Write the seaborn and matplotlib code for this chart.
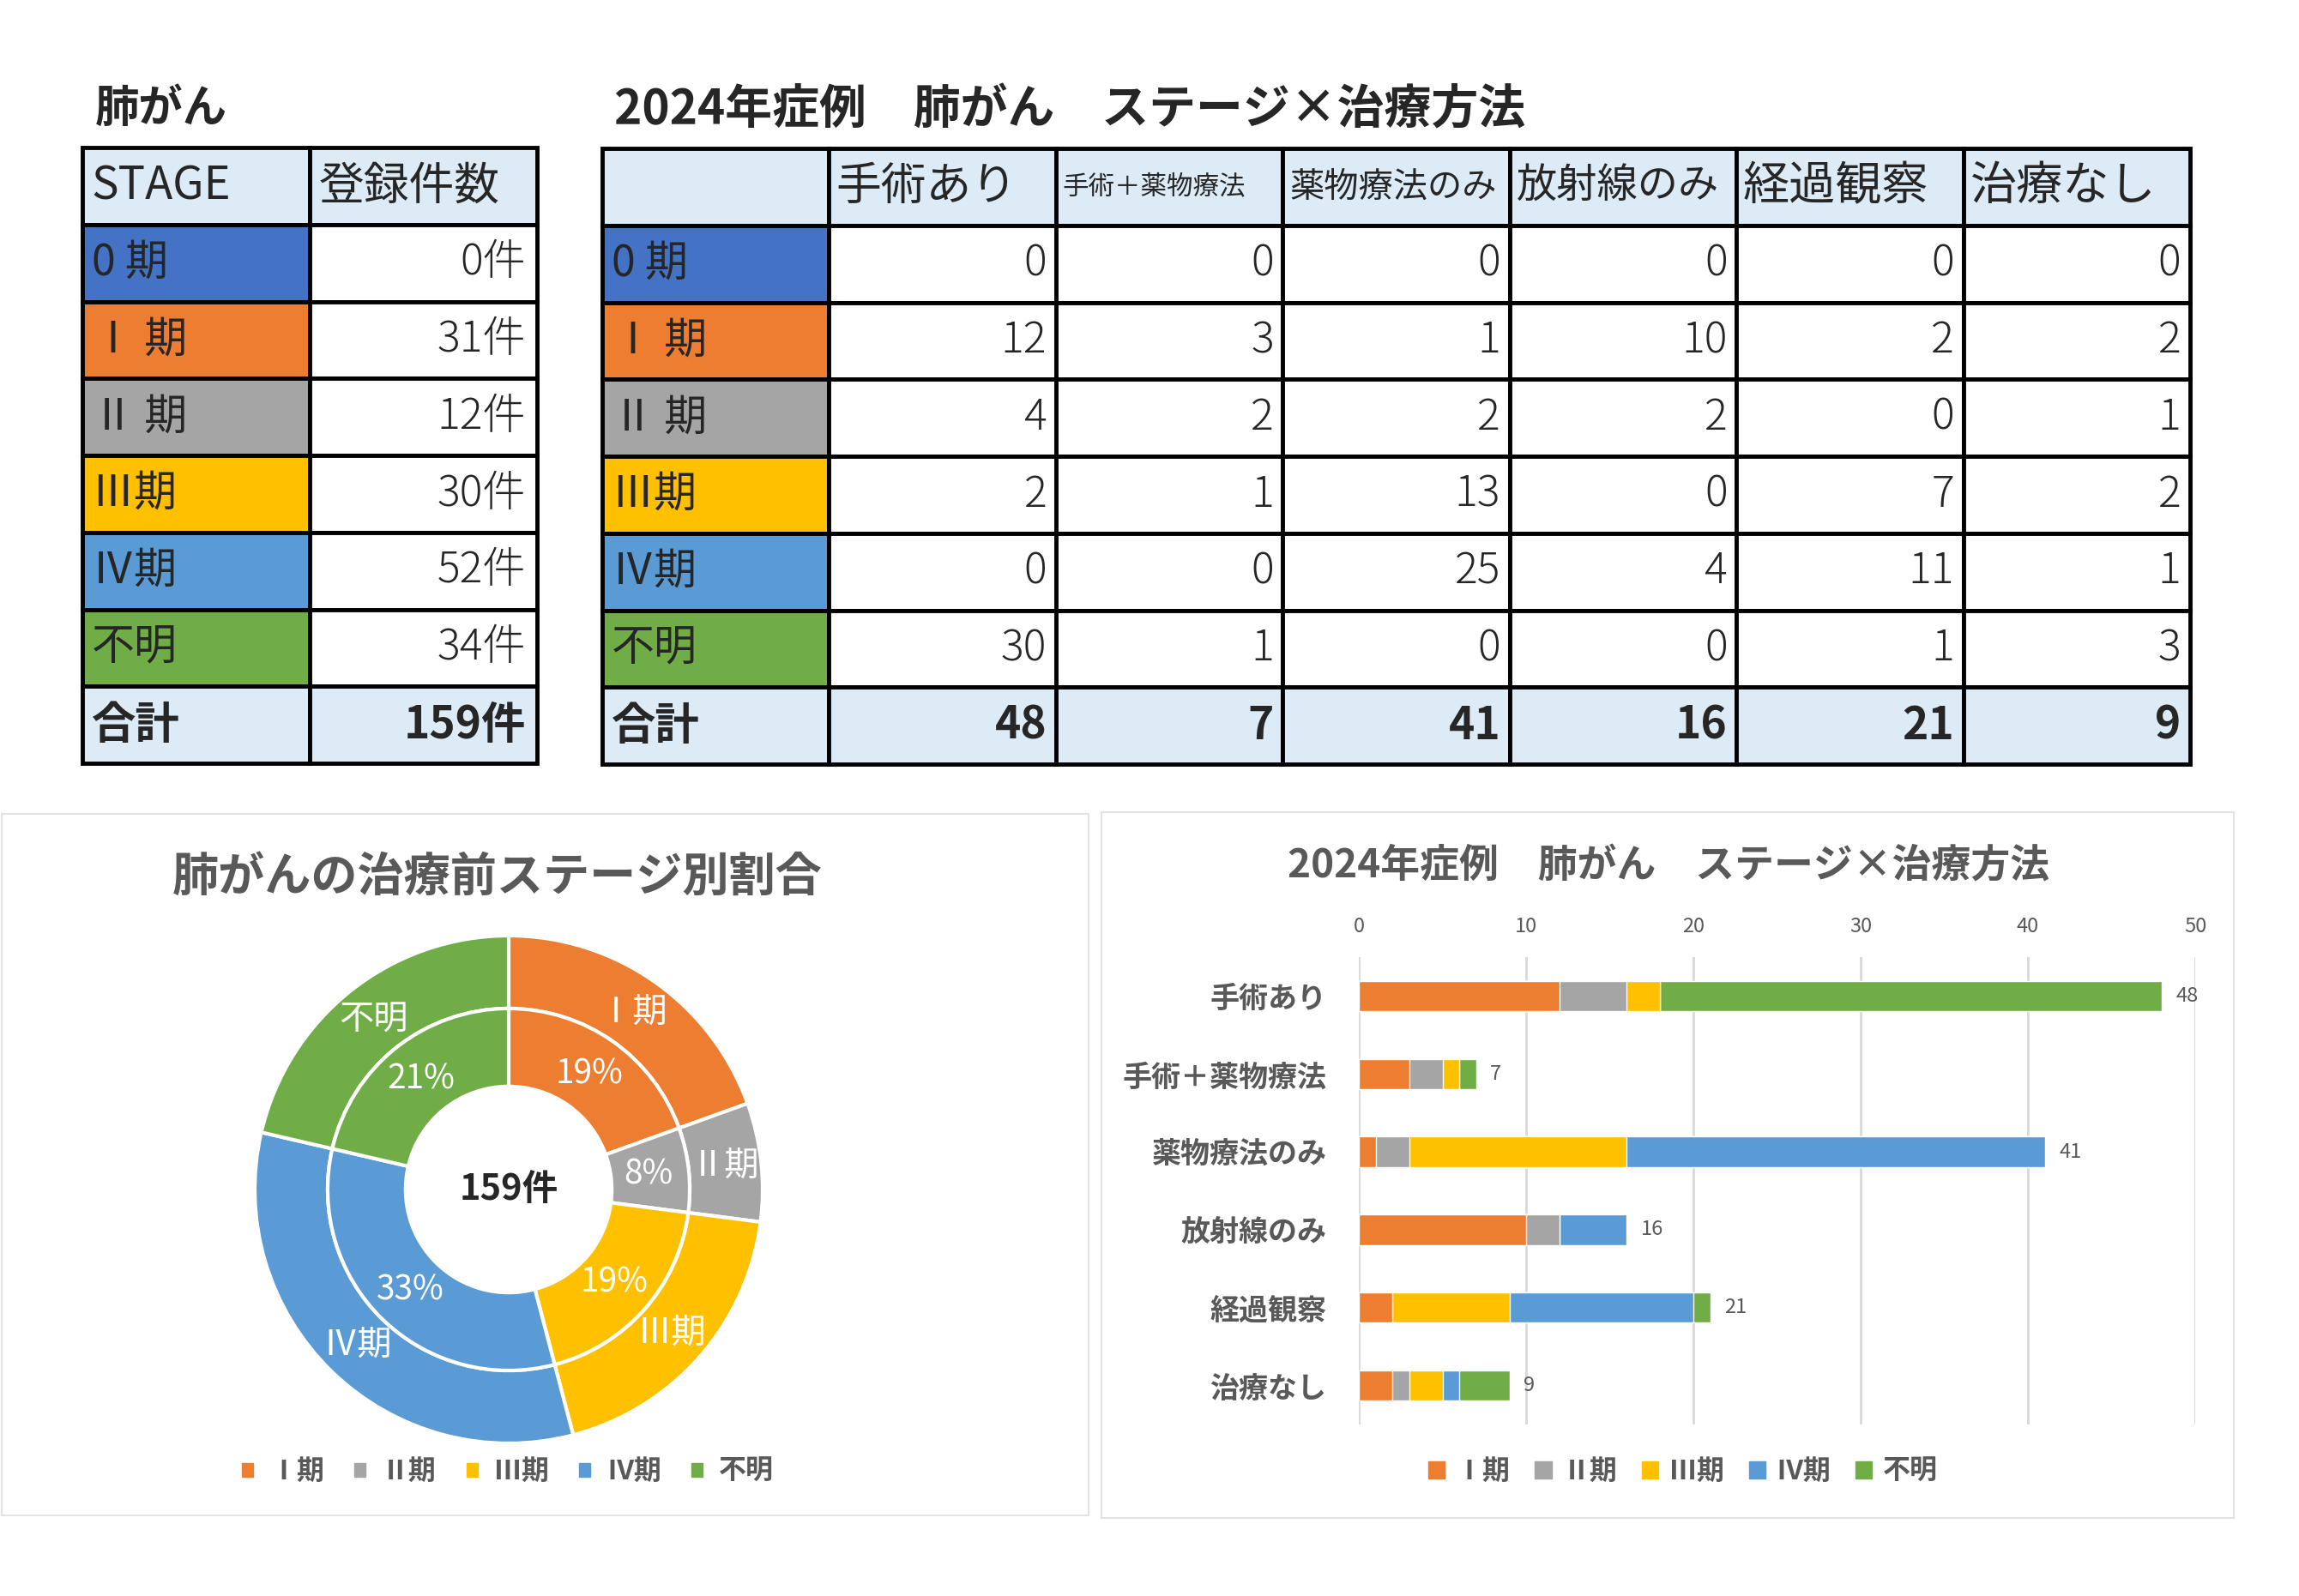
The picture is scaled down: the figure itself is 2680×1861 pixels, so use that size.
import numpy as np
import matplotlib
matplotlib.use("Agg")
import matplotlib.pyplot as plt
import matplotlib.patches as mpatches
import seaborn as sns

# ---- data ----
stage_names = ["0 期", "Ⅰ 期", "Ⅱ 期", "Ⅲ期", "Ⅳ期", "不明"]
stage_counts = [0, 31, 12, 30, 52, 34]
chart_stages = ["Ⅰ期", "Ⅱ期", "Ⅲ期", "Ⅳ期", "不明"]

treatments = ["手術あり", "手術＋薬物療法", "薬物療法のみ", "放射線のみ", "経過観察", "治療なし"]
stage0_by_treatment = [0, 0, 0, 0, 0, 0]
stage1_by_treatment = [12, 3, 1, 10, 2, 2]
stage2_by_treatment = [4, 2, 2, 2, 0, 1]
stage3_by_treatment = [2, 1, 13, 0, 7, 2]
stage4_by_treatment = [0, 0, 25, 4, 11, 1]
unknown_by_treatment = [30, 1, 0, 0, 1, 3]

stage_colors = ["#4472C4", "#ED7D31", "#A5A5A5", "#FFC000", "#5B9BD5", "#70AD47"]
HEADER_FILL = "#DDEBF7"
GRAY_TEXT = "#595959"

W, H = 2680, 1861


def fx(px):
    return px / W


def fy(py):
    return 1 - py / H


sns.set_theme(style="white")
plt.rcParams['font.family'] = ['Noto Sans CJK JP', 'DejaVu Sans']

fig = plt.figure(figsize=(W / 100, H / 100), dpi=100)

# light panel frames behind the two charts
for x0, y0, x1, y1 in [(2, 949, 1269, 1767), (1284, 947, 2604, 1770)]:
    fig.add_artist(mpatches.Rectangle((fx(x0), fy(y1)), (x1 - x0) / W, (y1 - y0) / H,
                                      transform=fig.transFigure, fill=False,
                                      edgecolor="#E3E3E3", lw=1.5, zorder=0))

# ---- titles above the tables ----
fig.text(fx(111), fy(126), "肺がん", fontsize=37, fontweight="bold", va="center", ha="left")
fig.text(fx(716), fy(128), "2024年症例　肺がん　ステージ×治療方法", fontsize=39.5,
         fontweight="bold", va="center", ha="left")

LW = 3.5


def cell(ax, c, r, face):
    ax.add_patch(mpatches.Rectangle((c, r), 1, 1, facecolor=face, edgecolor="black",
                                    lw=LW, clip_on=False))


# ---- left table: stage counts ----
ax_t1 = fig.add_axes([fx(96), fy(890), (626 - 96) / W, (890 - 172) / H])
ax_t1.set_xlim(0, 2)
ax_t1.set_ylim(8, 0)
ax_t1.axis("off")

cell(ax_t1, 0, 0, HEADER_FILL)
cell(ax_t1, 1, 0, HEADER_FILL)
ax_t1.text(0.04, 0.5, "STAGE", fontsize=38, va="center", ha="left")
ax_t1.text(1.04, 0.5, "登録件数", fontsize=38, va="center", ha="left")
for i, (name, n) in enumerate(zip(stage_names, stage_counts)):
    r = i + 1
    cell(ax_t1, 0, r, stage_colors[i])
    cell(ax_t1, 1, r, "white")
    ax_t1.text(0.04, r + 0.5, name, fontsize=36, va="center", ha="left")
    ax_t1.text(1.95, r + 0.5, f"{n}件", fontsize=36, va="center", ha="right", fontweight="light")
cell(ax_t1, 0, 7, HEADER_FILL)
cell(ax_t1, 1, 7, HEADER_FILL)
ax_t1.text(0.04, 7.5, "合計", fontsize=37, va="center", ha="left", fontweight="bold")
ax_t1.text(1.95, 7.5, f"{sum(stage_counts)}件", fontsize=37, va="center", ha="right",
           fontweight="bold")

# ---- right table: stage x treatment ----
cross = np.array([stage0_by_treatment, stage1_by_treatment, stage2_by_treatment,
                  stage3_by_treatment, stage4_by_treatment, unknown_by_treatment])
col_totals = cross.sum(axis=0)

ax_t2 = fig.add_axes([fx(702), fy(891), (2553 - 702) / W, (891 - 173) / H])
ax_t2.set_xlim(0, 7)
ax_t2.set_ylim(8, 0)
ax_t2.axis("off")

header_sizes = [38, 22, 29, 34, 39, 39]
cell(ax_t2, 0, 0, HEADER_FILL)
for j, t in enumerate(treatments):
    cell(ax_t2, j + 1, 0, HEADER_FILL)
    ax_t2.text(j + 1.03, 0.5, t, fontsize=header_sizes[j], va="center", ha="left")
for i, name in enumerate(stage_names):
    r = i + 1
    cell(ax_t2, 0, r, stage_colors[i])
    ax_t2.text(0.04, r + 0.5, name, fontsize=36, va="center", ha="left")
    for j in range(len(treatments)):
        cell(ax_t2, j + 1, r, "white")
        ax_t2.text(j + 1.96, r + 0.5, str(cross[i, j]), fontsize=36, va="center",
                   ha="right", fontweight="light")
cell(ax_t2, 0, 7, HEADER_FILL)
ax_t2.text(0.04, 7.5, "合計", fontsize=37, va="center", ha="left", fontweight="bold")
for j, tot in enumerate(col_totals):
    cell(ax_t2, j + 1, 7, HEADER_FILL)
    ax_t2.text(j + 1.96, 7.5, str(tot), fontsize=37, va="center", ha="right",
               fontweight="bold")

# ---- donut chart ----
pie_vals = [n for n in stage_counts if n > 0]
pie_cols = [c for n, c in zip(stage_counts, stage_colors) if n > 0]
total = sum(stage_counts)

ax_pie = fig.add_axes([fx(593 - 296), fy(1387 + 296), 592 / W, 592 / H])
outer, _ = ax_pie.pie(pie_vals, radius=1.0, colors=pie_cols, startangle=90, counterclock=False,
                      wedgeprops=dict(width=0.287, edgecolor="white", linewidth=3))
inner, _ = ax_pie.pie(pie_vals, radius=0.713, colors=pie_cols, startangle=90, counterclock=False,
                      wedgeprops=dict(width=0.307, edgecolor="white", linewidth=3))
ax_pie.set_xlim(-1, 1)
ax_pie.set_ylim(-1, 1)

for w, lab in zip(outer, chart_stages):
    ang = np.deg2rad((w.theta1 + w.theta2) / 2)
    ax_pie.text(0.855 * np.cos(ang), 0.855 * np.sin(ang), lab, fontsize=29, color="white",
                ha="center", va="center")
for w, v in zip(inner, pie_vals):
    ang = np.deg2rad((w.theta1 + w.theta2) / 2)
    ax_pie.text(0.555 * np.cos(ang), 0.555 * np.sin(ang), f"{round(v / total * 100)}%",
                fontsize=28, color="white", ha="center", va="center")
ax_pie.text(0, 0, f"{total}件", fontsize=30, fontweight="bold", ha="center", va="center")

fig.text(fx(580), fy(1023), "肺がんの治療前ステージ別割合", fontsize=39, fontweight="bold",
         color=GRAY_TEXT, ha="center", va="center")

pie_handles = [mpatches.Patch(color=c, label=l) for c, l in zip(pie_cols, chart_stages)]
ax_pie.legend(handles=pie_handles, loc="center", bbox_to_anchor=(fx(592), fy(1716)),
              bbox_transform=fig.transFigure, ncol=5, frameon=False,
              prop={"size": 23, "weight": "bold"}, labelcolor=GRAY_TEXT,
              handlelength=0.4, handleheight=0.4, handletextpad=0.6, columnspacing=1.1)

# ---- stacked horizontal bar chart ----
cum = np.cumsum(cross[1:], axis=0)
ax_bar = fig.add_axes([fx(1584), fy(1661), 975 / W, 545 / H])
for k in reversed(range(len(chart_stages))):
    sns.barplot(x=cum[k], y=treatments, order=treatments, orient="h",
                color=stage_colors[k + 1], saturation=1, width=0.39,
                errorbar=None, ax=ax_bar)

for i, t in enumerate(col_totals):
    ax_bar.annotate(str(t), (t, i), xytext=(12, 0), textcoords="offset points",
                    ha="left", va="center", fontsize=17, color=GRAY_TEXT)

ax_bar.set_xlim(0, 50)
ax_bar.set_xticks(range(0, 51, 10))
ax_bar.set_xlabel("")
ax_bar.set_ylabel("")
ax_bar.xaxis.set_ticks_position("top")
ax_bar.grid(axis="x", color="#D9D9D9", linewidth=2)
ax_bar.grid(axis="y", visible=False)
ax_bar.set_axisbelow(True)
sns.despine(ax=ax_bar, left=True, bottom=True, top=True, right=True)
ax_bar.tick_params(axis="x", length=0, pad=17, labelsize=17, labelcolor=GRAY_TEXT)
ax_bar.tick_params(axis="y", length=0, pad=27, labelsize=24.5, labelcolor=GRAY_TEXT)
for lab in ax_bar.get_yticklabels():
    lab.set_fontweight("bold")

fig.text(fx(1945), fy(1010), "2024年症例　肺がん　ステージ×治療方法", fontsize=33,
         fontweight="bold", color=GRAY_TEXT, ha="center", va="center")

bar_handles = [mpatches.Patch(color=c, label=l) for c, l in zip(stage_colors[1:], chart_stages)]
ax_bar.legend(handles=bar_handles, loc="center", bbox_to_anchor=(fx(1962), fy(1716)),
              bbox_transform=fig.transFigure, ncol=5, frameon=False,
              prop={"size": 23, "weight": "bold"}, labelcolor=GRAY_TEXT,
              handlelength=0.6, handleheight=0.6, handletextpad=0.4, columnspacing=0.9)

fig.savefig("out.png", dpi=100, facecolor="white")
